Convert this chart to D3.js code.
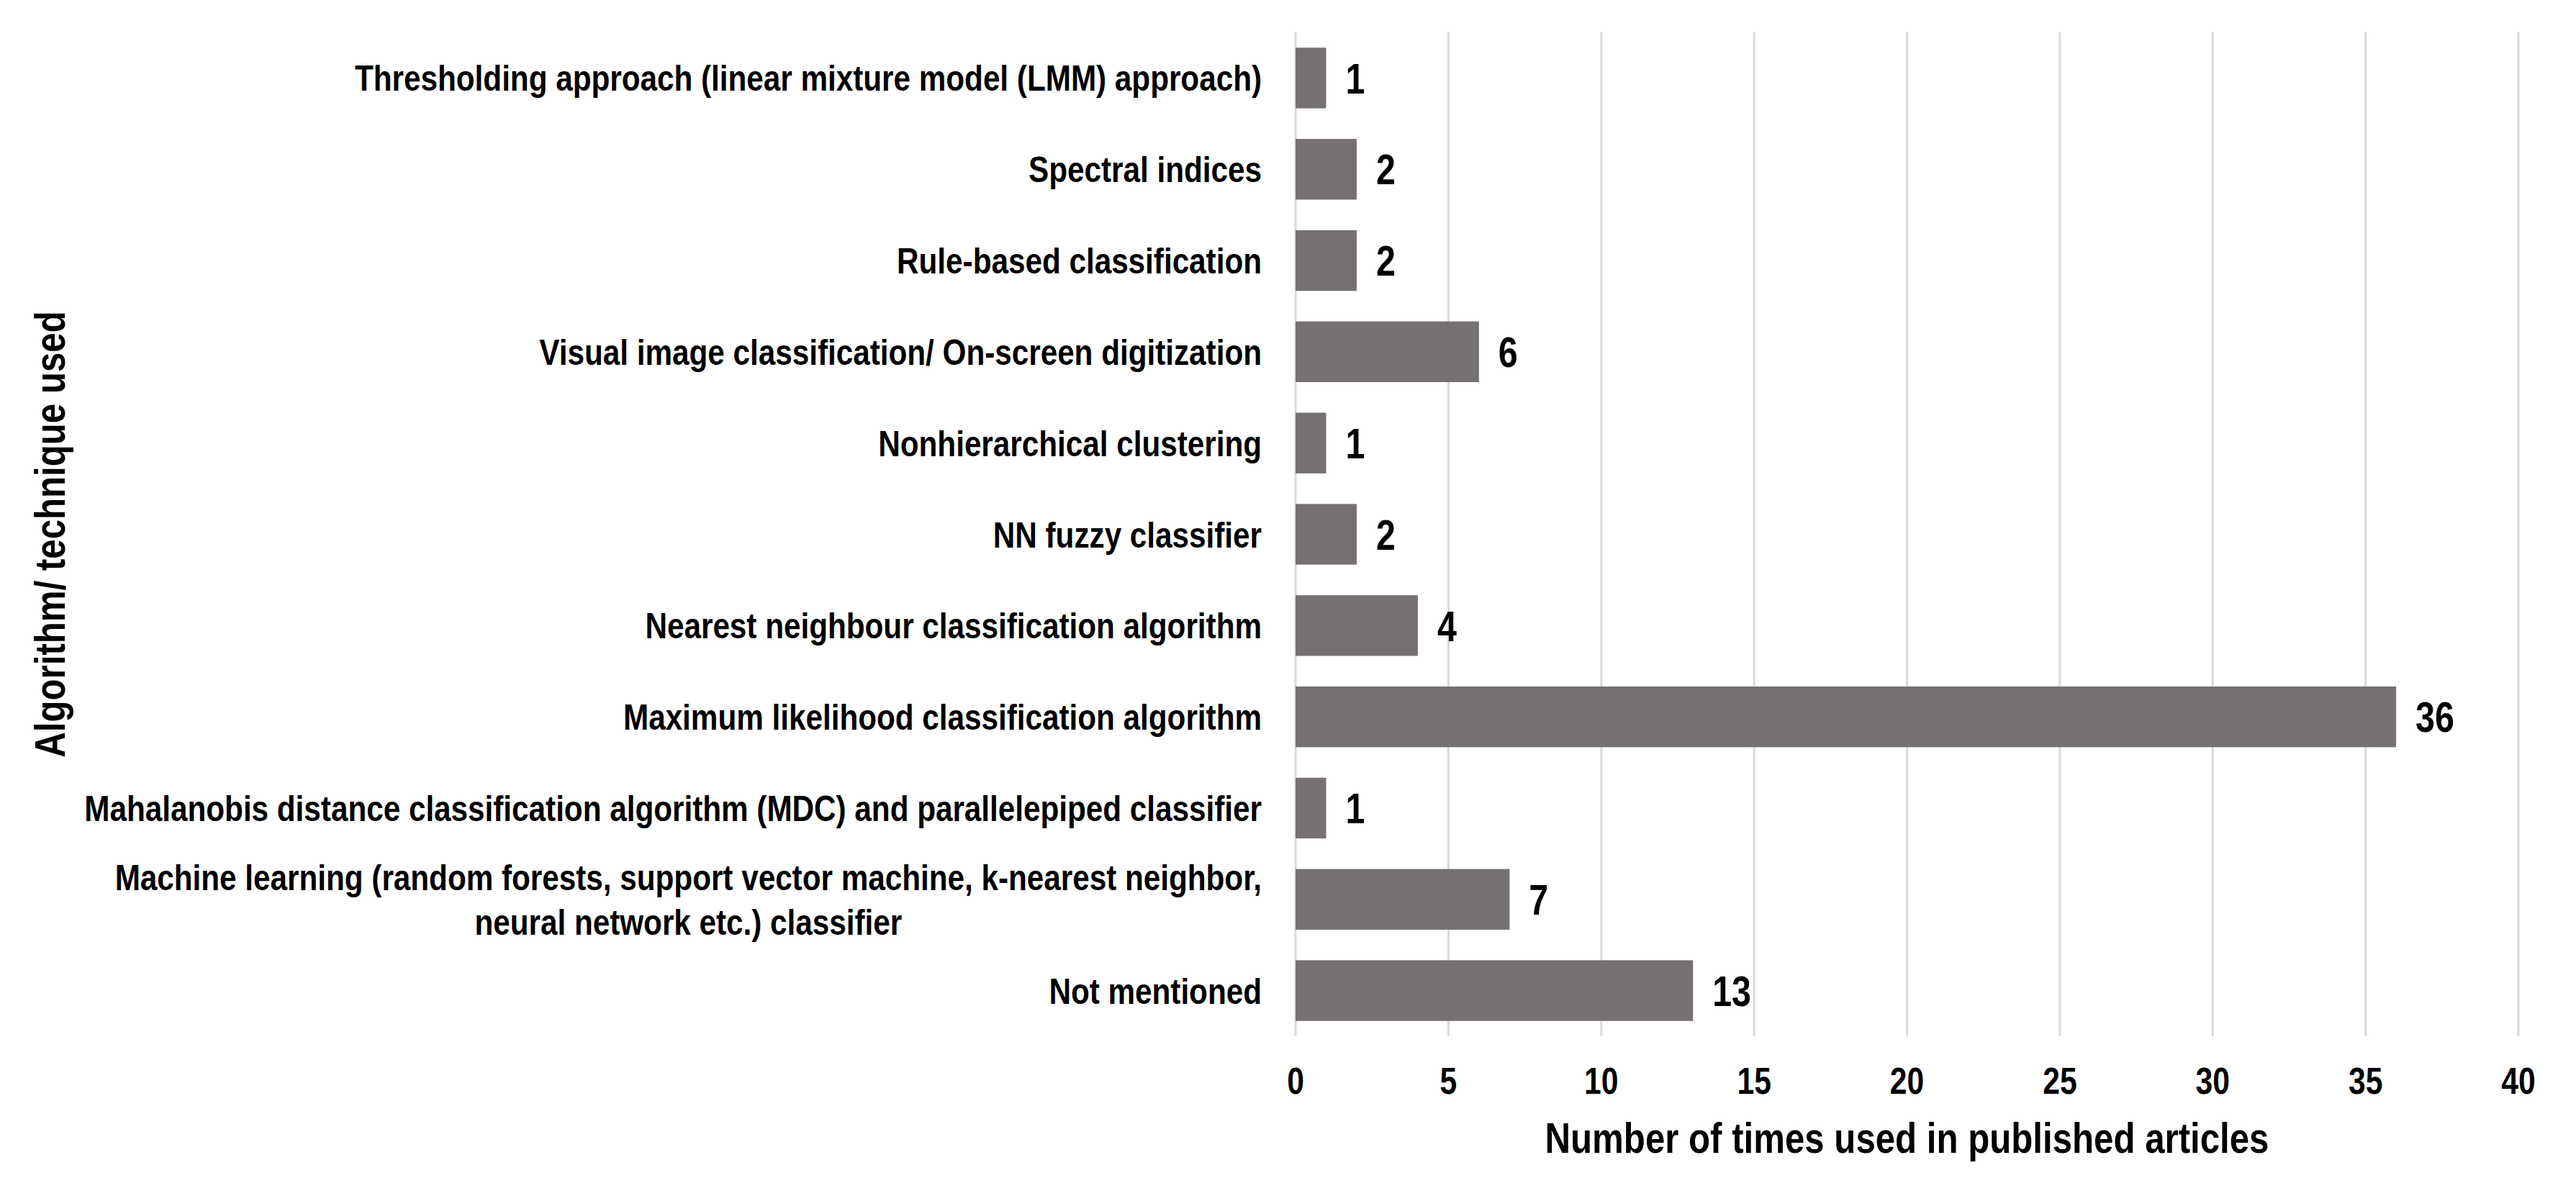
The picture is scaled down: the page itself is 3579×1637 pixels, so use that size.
<!DOCTYPE html>
<html>
<head>
<meta charset="utf-8">
<script src="https://cdn.jsdelivr.net/npm/d3@7"></script>
<style>
  html, body { margin: 0; padding: 0; background: #fff; }
  svg { display: block; }
  text { font-family: "Liberation Sans", Arial, sans-serif; font-weight: bold; fill: #000; }
</style>
</head>
<body>
<svg id="chart" width="3579" height="1637"></svg>
<script>
const categories = [
  "Thresholding approach (linear mixture model (LMM) approach)",
  "Spectral indices",
  "Rule-based classification",
  "Visual image classification/ On-screen digitization",
  "Nonhierarchical clustering",
  "NN fuzzy classifier",
  "Nearest neighbour classification algorithm",
  "Maximum likelihood classification algorithm",
  "Mahalanobis distance classification algorithm (MDC) and parallelepiped classifier",
  "Machine learning (random forests, support vector machine, k-nearest neighbor,\nneural network etc.) classifier",
  "Not mentioned"
];
const values = [1, 2, 2, 6, 1, 2, 4, 36, 1, 7, 13];
const xTicks = [0, 5, 10, 15, 20, 25, 30, 35, 40];
const xTitle = "Number of times used in published articles";
const yTitle = "Algorithm/ technique used";

const svg = d3.select("#chart");
const W = 3579, H = 1637;
svg.append("rect").attr("width", W).attr("height", H).attr("fill", "#fff");

// condensed look of the original (narrow bold face)
const SX_LABEL = 0.845, SX = 0.82;

const plot = { left: 1800, right: 3499, top: 45, bottom: 1440 };

const x = d3.scaleLinear().domain([0, 40]).range([plot.left, plot.right]);
const y = d3.scaleBand().domain(categories).range([plot.top, plot.bottom])
  .paddingInner(0.335).paddingOuter(0.1675);

// gridlines
svg.append("g").selectAll("line").data(xTicks).join("line")
  .attr("x1", d => x(d)).attr("x2", d => x(d))
  .attr("y1", plot.top).attr("y2", plot.bottom)
  .attr("stroke", "#d9d9d9").attr("stroke-width", 3);

// bars
svg.append("g").selectAll("rect").data(values).join("rect")
  .attr("x", x(0))
  .attr("y", (d, i) => y(categories[i]))
  .attr("width", d => x(d) - x(0))
  .attr("height", y.bandwidth())
  .attr("fill", "#767171");

// value labels
svg.append("g").selectAll("g").data(values).join("g")
  .attr("transform", (d, i) => `translate(${x(d) + 27},${y(categories[i]) + y.bandwidth() / 2}) scale(${SX},1)`)
  .append("text")
  .attr("dy", "0.36em")
  .attr("font-size", 59)
  .text(d => d);

// x tick labels
svg.append("g").selectAll("g").data(xTicks).join("g")
  .attr("transform", d => `translate(${x(d)},1520) scale(${SX},1)`)
  .append("text")
  .attr("text-anchor", "middle")
  .attr("font-size", 52)
  .text(d => d);

// category labels
const labelRight = 1753;
const lineH = 62;
const catG = svg.append("g");
categories.forEach((c, i) => {
  const lines = c.split("\n");
  const cy = y(c) + y.bandwidth() / 2;
  const g = catG.append("g").attr("transform", `translate(${labelRight},${cy}) scale(${SX_LABEL},1)`);
  if (lines.length === 1) {
    g.append("text").attr("dy", "0.36em")
      .attr("text-anchor", "end").attr("font-size", 50).text(c);
  } else {
    const t = g.append("text").attr("font-size", 50).attr("text-anchor", "middle");
    const spans = lines.map((l, k) => t.append("tspan").text(l)
      .attr("y", (k - (lines.length - 1) / 2) * lineH).attr("dy", "0.36em"));
    const maxW = d3.max(spans, s => s.node().getComputedTextLength());
    spans.forEach(s => s.attr("x", -maxW / 2));
  }
});

// axis titles
svg.append("g")
  .attr("transform", `translate(${(plot.left + plot.right) / 2},1602) scale(${SX},1)`)
  .append("text")
  .attr("text-anchor", "middle").attr("font-size", 60)
  .text(xTitle);

svg.append("g")
  .attr("transform", `translate(68, ${(plot.top + plot.bottom) / 2}) rotate(-90) scale(${SX},1)`)
  .append("text")
  .attr("text-anchor", "middle").attr("dy", "0.36em").attr("font-size", 60)
  .text(yTitle);
</script>
</body>
</html>
